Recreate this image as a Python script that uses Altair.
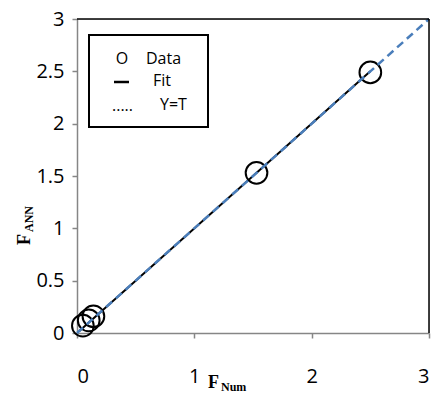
import altair as alt
import pandas as pd

# data
data_x = [0.05, 0.10, 0.14, 1.53, 2.50]
data_y = [0.07, 0.12, 0.16, 1.53, 2.49]
fit_x = [0.02, 2.50]
fit_y = [0.02, 2.50]
yt_x = [0.0, 3.0]
yt_y = [0.0, 3.0]
x_ticks = [0, 1, 2, 3]
y_ticks = [0, 0.5, 1, 1.5, 2, 2.5, 3]
legend_symbols = ["O", "....."]
legend_labels = ["Data", "Fit", "Y=T"]

W, H = 352, 314
TICK_FONT = "Open Sans"
GRAY = "#868686"
BLUE = "#4a7ebb"

pts = pd.DataFrame({"x": data_x, "y": data_y})
fit = pd.DataFrame({"x": fit_x, "y": fit_y})
yt = pd.DataFrame({"x": yt_x, "y": yt_y})

xs = alt.Scale(domain=[0, 3], nice=False, zero=False)
ys = alt.Scale(domain=[0, 3], nice=False, zero=False)

xax = alt.Axis(values=x_ticks, format="~g", title=None, grid=False,
               domainColor=GRAY, domainWidth=1.5, tickColor=GRAY, tickWidth=1.5,
               tickSize=5, labelFont=TICK_FONT, labelFontSize=20, labelColor="black",
               labelPadding=28)
yax = alt.Axis(values=y_ticks, format="~g", title=None, grid=False,
               domainColor=GRAY, domainWidth=1.5, tickColor=GRAY, tickWidth=1.5,
               tickSize=5, labelFont=TICK_FONT, labelFontSize=20, labelColor="black",
               labelPadding=8)

base_x = alt.X("x:Q", scale=xs, axis=xax)
base_y = alt.Y("y:Q", scale=ys, axis=yax)

fit_line = alt.Chart(fit).mark_line(color="black", strokeWidth=2).encode(
    x=base_x, y=base_y)
yt_line = alt.Chart(yt).mark_line(color=BLUE, strokeWidth=2.5, strokeDash=[8, 5]).encode(
    x=alt.X("x:Q", scale=xs), y=alt.Y("y:Q", scale=ys))
circles = alt.Chart(pts).mark_point(shape="circle", size=470, filled=False,
                                    color="black", strokeWidth=2, opacity=1).encode(
    x=alt.X("x:Q", scale=xs), y=alt.Y("y:Q", scale=ys))

one = pd.DataFrame({"a": [0]})

# frame (top and right borders)
top_border = alt.Chart(one).mark_rule(color="black", strokeWidth=1.5).encode(
    x=alt.value(0), x2=alt.value(W), y=alt.value(0))
right_border = alt.Chart(one).mark_rule(color="black", strokeWidth=1.5).encode(
    x=alt.value(W), y=alt.value(0), y2=alt.value(H))

# legend box
leg_box = alt.Chart(one).mark_rect(fill="white", stroke="black", strokeWidth=2).encode(
    x=alt.value(12), x2=alt.value(131), y=alt.value(16), y2=alt.value(108))

def txt(s, x, y, size=15, font="Open Sans", weight="normal", align="left",
        baseline="middle", angle=0):
    return alt.Chart(pd.DataFrame({"t": [s]})).mark_text(
        font=font, fontSize=size, fontWeight=weight, align=align,
        baseline=baseline, angle=angle, color="black").encode(
        text="t:N", x=alt.value(x), y=alt.value(y))

leg_o = txt(legend_symbols[0], 45, 40, size=16, align="center")
leg_data = txt(legend_labels[0], 69, 40, size=16)
leg_dash = alt.Chart(one).mark_rule(color="black", strokeWidth=2.5).encode(
    x=alt.value(37), x2=alt.value(52), y=alt.value(63))
leg_fit = txt(legend_labels[1], 76, 62, size=16)
leg_dots = txt(legend_symbols[1], 35, 92, size=16, baseline="alphabetic")
leg_yt = txt(legend_labels[2], 83, 86, size=16)

# axis titles with subscripts
SERIF = "Times New Roman, Liberation Serif"
x_title_F = txt("F", 131, 369, size=18, font=SERIF, weight="bold", baseline="alphabetic")
x_title_sub = txt("Num", 144, 372, size=12, font=SERIF, weight="bold", baseline="alphabetic")
y_title_F = txt("F", -47, 226, size=18, font=SERIF, weight="bold",
                baseline="alphabetic", angle=270)
y_title_sub = txt("ANN", -44, 213, size=12, font=SERIF, weight="bold",
                  baseline="alphabetic", angle=270)

chart = alt.layer(
    fit_line, circles, yt_line, top_border, right_border,
    leg_box, leg_o, leg_data, leg_dash, leg_fit, leg_dots, leg_yt,
    x_title_F, x_title_sub, y_title_F, y_title_sub,
).properties(
    width=W, height=H,
    autosize=alt.AutoSizeParams(type="none"),
    padding={"left": 77, "top": 19, "right": 9, "bottom": 61},
).configure_view(stroke=None).configure(background="white")

chart.save("out.html", embed_options={"renderer": "svg", "actions": False})
